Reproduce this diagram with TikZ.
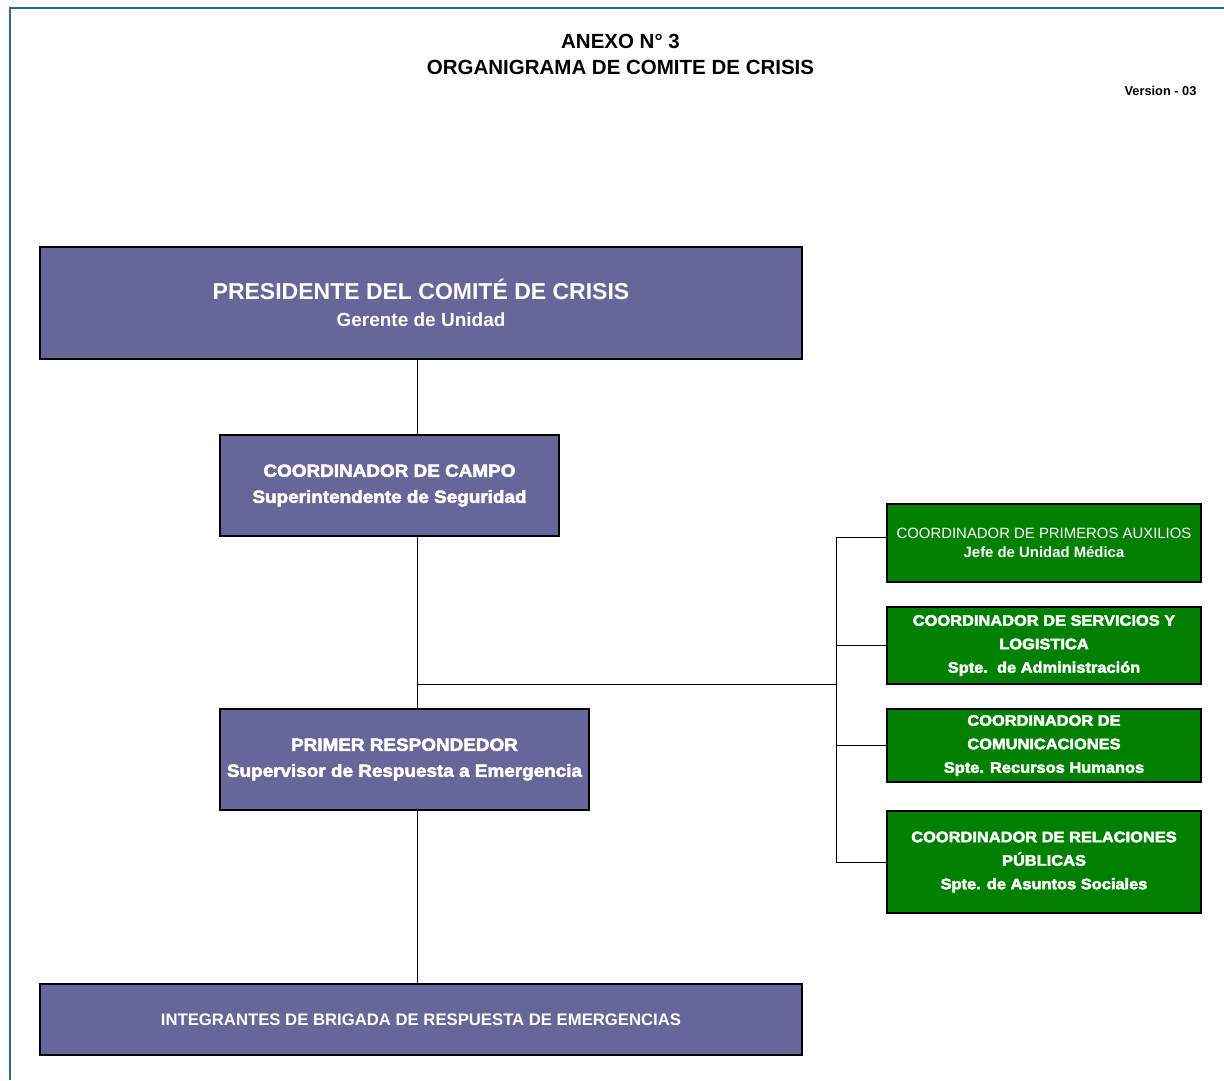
\documentclass[tikz,border=0pt]{standalone}
\usepackage{fontspec}
\setmainfont{Liberation Sans}
\newfontfamily\heavyfont[FakeBold=3,FakeStretch=1.08]{Liberation Sans Bold}
\usepackage{tikz}

\definecolor{cargo}{HTML}{666699}
\definecolor{apoyo}{HTML}{008000}
\definecolor{marco}{HTML}{2F6A8C}

\begin{document}
\begin{tikzpicture}[x=1pt,y=-1pt]
\tikzset{cargo/.style={rectangle,draw=black,line width=1.2pt,fill=cargo,text=white,align=center,inner sep=0pt}}
\tikzset{apoyo/.style={cargo,fill=apoyo,minimum width=314pt}}
\tikzstyle{linea}=[black,line width=1pt]
\useasboundingbox (0,0) rectangle (1224,1080);
% marco de la hoja
\draw[marco,line width=2pt] (10,1080) -- (10,8) -- (1224,8);
% titulo
\node[font=\bfseries\fontsize{20.5}{26}\selectfont,align=center] (titulo) at (620.5,54) {ANEXO N° 3\\ORGANIGRAMA DE COMITE DE CRISIS};
\node[font=\bfseries\fontsize{12.8}{15}\selectfont,anchor=east] (version) at (1200,91) {Version - 03};
% cargos
\node[cargo,minimum width=762pt,minimum height=112pt,font=\bfseries\fontsize{19}{27}\selectfont] (pres) at (421,303)
  {{\fontsize{23}{27}\selectfont PRESIDENTE DEL COMITÉ DE CRISIS}\\Gerente de Unidad};
\node[cargo,minimum width=339pt,minimum height=101pt,font=\heavyfont\fontsize{17.5}{26}\selectfont] (campo) at (389.5,485.5)
  {COORDINADOR DE CAMPO\\Superintendente de Seguridad};
\node[cargo,minimum width=369pt,minimum height=101pt,font=\heavyfont\fontsize{17.5}{26}\selectfont] (primer) at (404.5,759.5)
  {PRIMER RESPONDEDOR\\Supervisor de Respuesta a Emergencia};
\node[cargo,minimum width=762pt,minimum height=71pt,font=\bfseries\fontsize{16.7}{20}\selectfont] (brigada) at (421,1019.5)
  {INTEGRANTES DE BRIGADA DE RESPUESTA DE EMERGENCIAS};
% coordinadores de apoyo
\node[apoyo,minimum height=78pt,font=\fontsize{14.9}{18.5}\selectfont] (aux) at (1044,543)
  {COORDINADOR DE PRIMEROS AUXILIOS\\{\bfseries Jefe de Unidad Médica}};
\node[apoyo,minimum height=77pt,font=\heavyfont\fontsize{15.2}{23.5}\selectfont] (serv) at (1044,645.5)
  {COORDINADOR DE SERVICIOS Y\\LOGISTICA\\Spte.\ \ de Administración};
\node[apoyo,minimum height=73pt,font=\heavyfont\fontsize{15.2}{23.5}\selectfont] (com) at (1044,745.5)
  {COORDINADOR DE\\COMUNICACIONES\\Spte. Recursos Humanos};
\node[apoyo,minimum height=102pt,font=\heavyfont\fontsize{15.2}{23.5}\selectfont] (rel) at (1044,862)
  {COORDINADOR DE RELACIONES\\PÚBLICAS\\Spte. de Asuntos Sociales};
% lineas
\coordinate (eje) at (417,684);
\coordinate (bus) at (836,684);
\draw[linea] (pres.south -| eje) -- (campo.north -| eje);
\draw[linea] (campo.south -| eje) -- (primer.north -| eje);
\draw[linea] (primer.south -| eje) -- (brigada.north -| eje);
\draw[linea] (eje) -- (bus);
\draw[linea] ([yshift=6pt]aux.west -| bus) -- (rel.west -| bus);
\draw[linea] ([yshift=6pt]aux.west -| bus) -- ([yshift=6pt]aux.west);
\foreach \n in {serv,com,rel}
  \draw[linea] (\n.west -| bus) -- (\n.west);
\end{tikzpicture}
\end{document}
